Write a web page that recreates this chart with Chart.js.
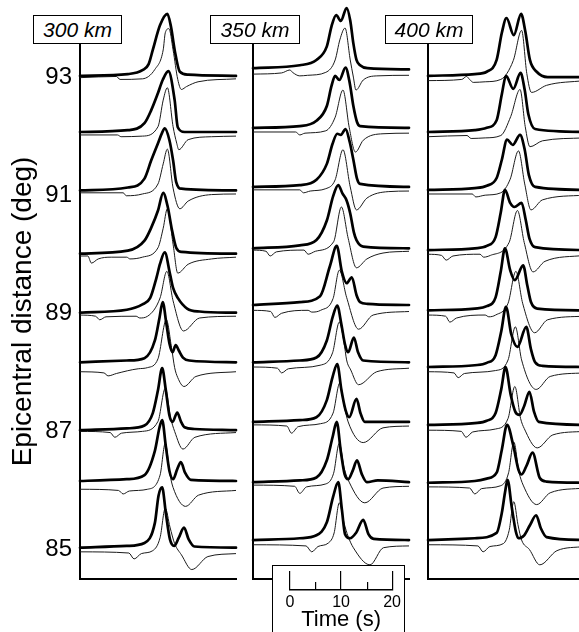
<!DOCTYPE html>
<html><head><meta charset="utf-8">
<script src="https://cdn.jsdelivr.net/npm/chart.js@4.4.1/dist/chart.umd.min.js"></script>
<style>
html,body{margin:0;padding:0;width:579px;height:632px;overflow:hidden;background:#fff;}
canvas{position:absolute;}
.lbl{position:absolute;box-sizing:border-box;border:1px solid #000;background:#fff;font:italic 21px 'Liberation Sans',Arial,sans-serif;display:flex;align-items:center;justify-content:center;z-index:2;color:#000;}
#sbox{position:absolute;left:272px;top:565px;width:133px;height:80px;box-sizing:border-box;border:1px solid #000;background:#fff;z-index:2;}
</style></head><body>
<canvas id="p0" width="240" height="632" style="left:0;top:0;z-index:1"></canvas>
<canvas id="p1" width="160" height="632" style="left:251px;top:0;z-index:1"></canvas>
<canvas id="p2" width="160" height="632" style="left:426px;top:0;z-index:1"></canvas>
<div class="lbl" id="l0" style="left:33px;top:15px;width:89px;height:29px"></div>
<div class="lbl" id="l1" style="left:210px;top:15px;width:90px;height:29px"></div>
<div class="lbl" id="l2" style="left:385px;top:15px;width:88px;height:29px"></div>
<div id="sbox"></div>
<canvas id="sA" width="124" height="80" style="left:280px;top:560px;z-index:3"></canvas>
<canvas id="sB" width="124" height="80" style="left:280px;top:560px;z-index:3"></canvas>
<script>
// ---- data ----
const distances = [85, 86, 87, 88, 89, 90, 91, 92, 93];
const yTicks = [85, 87, 89, 91, 93];
const depthLabels = ['300 km', '350 km', '400 km'];
const scaleTicks = [0, 5, 10, 15, 20];

// baselines (deg) of each trace, order 85..93
const baseThick300 = [85.03, 86.16, 87.02, 88.17, 89.01, 90.01, 91.08, 92.07, 93.02];
const baseThin300  = [84.96, 86.02, 87.00, 88.01, 88.97, 89.97, 91.04, 92.02, 92.99];
const baseThick350 = [85.16, 86.14, 87.16, 88.17, 89.14, 90.10, 91.14, 92.14, 93.15];
const baseThin350  = [85.08, 86.09, 87.11, 88.09, 89.05, 90.07, 91.09, 92.07, 93.05];
const baseThick400 = [85.16, 86.13, 87.11, 88.09, 89.05, 90.07, 91.09, 92.07, 93.02];
const baseThin400  = [85.08, 86.06, 87.02, 88.01, 88.97, 90.00, 91.02, 91.99, 92.94];

// traces: flat [time(s), amplitude(deg), ...], order 85..93
const thick300 = [
 [0,0, 9,0.03, 12.4,0.08, 14.4,0.42, 15.1,0.88, 15.8,1.02, 16.5,0.59, 17.3,0.14, 18.1,0.03, 19.0,0.17, 20.0,0.34, 20.9,0.14, 22.0,0.02, 30,0],
 [0,0, 9,0.03, 12.4,0.10, 14.4,0.51, 15.3,0.91, 15.8,1.03, 16.5,0.59, 17.2,0.17, 17.9,0.03, 18.7,0.20, 19.4,0.32, 20.2,0.14, 21.3,0.02, 30,0],
 [0,0, 9,0.03, 12.4,0.08, 14.0,0.29, 15.0,0.68, 15.8,1.05, 16.5,0.68, 17.2,0.25, 17.8,0.14, 18.7,0.30, 19.4,0.15, 20.1,0.05, 22,0.02, 30,0],
 [0,0, 9,0.03, 12.4,0.07, 14.4,0.37, 15.3,0.76, 15.9,1.02, 16.6,0.66, 17.2,0.32, 17.8,0.17, 18.4,0.29, 19.0,0.20, 19.8,0.08, 21,0.03, 30,0],
 [0,0, 9,0.05, 12,0.14, 13.5,0.25, 14.7,0.59, 15.4,0.83, 16.3,1.02, 17.3,0.66, 17.9,0.42, 18.8,0.25, 20.6,0.07, 23,0.02, 30,0],
 [0,0, 9.2,0.05, 12.4,0.22, 13.7,0.44, 15.0,0.73, 16.0,1.03, 16.9,0.78, 17.6,0.44, 18.5,0.10, 19.5,0.03, 30,0],
 [0,0, 9.2,0.05, 12.4,0.20, 13.7,0.51, 15.0,0.80, 15.8,0.98, 16.3,1.05, 17.2,0.85, 17.9,0.51, 18.5,0.14, 19.5,0.03, 30,0],
 [0,0, 9.2,0.03, 12.4,0.15, 13.7,0.37, 15.0,0.66, 15.9,0.88, 17.0,1.03, 18.2,0.54, 18.8,0.08, 20.1,0, 30,0],
 [0,0, 9.2,0.03, 12.1,0.10, 13.2,0.20, 14.0,0.44, 15.4,0.86, 16.8,1.05, 17.5,0.83, 18.2,0.44, 19.2,0.07, 20.8,0.02, 30,0]
];
const thin300 = [
 [0,0, 9.4,-0.02, 10.4,-0.12, 11.8,-0.03, 14,0.02, 15.4,0.24, 16.4,0.74, 17.3,0.42, 18.2,0.14, 19.5,-0.05, 21.5,-0.30, 24.6,-0.08, 30,-0.03],
 [0,0, 7.4,-0.02, 8.3,-0.08, 9.5,-0.03, 13,0, 15.4,0.24, 16.4,0.78, 17.3,0.25, 17.9,0.03, 20.3,-0.29, 22.8,-0.10, 30,-0.02],
 [0,0, 5.8,-0.02, 6.7,-0.10, 8,-0.03, 12,0, 15.0,0.17, 16.4,0.73, 17.4,0.24, 18.2,0, 19.8,-0.30, 22.1,-0.10, 30,-0.02],
 [0,0, 4.6,-0.02, 5.4,-0.07, 7,-0.03, 11.2,0.05, 13,0.07, 15.0,0.22, 16.6,0.88, 17.6,0.41, 18.2,0.07, 18.8,-0.10, 20.0,-0.25, 22.3,-0.08, 30,0],
 [0,0, 3.0,-0.02, 3.8,-0.08, 5,-0.03, 10.8,-0.02, 11.5,-0.05, 13,-0.02, 15.4,0.29, 16.7,0.74, 17.9,0.24, 19.9,-0.27, 23,-0.05, 30,-0.02],
 [0,0, 1.5,0, 2.2,-0.12, 3.5,-0.05, 6,-0.02, 9.0,-0.02, 9.6,-0.05, 12,-0.02, 15.0,0.14, 16.0,0.47, 16.8,0.80, 17.9,0.20, 18.8,-0.29, 20.8,-0.14, 25.3,-0.05, 30,-0.02],
 [0,0, 8.3,0, 8.9,-0.05, 12,-0.02, 15.0,0.15, 16.0,0.49, 16.8,0.74, 17.9,0.08, 19.2,-0.27, 20.8,-0.14, 25.3,-0.03, 30,-0.02],
 [0,0, 7.2,0, 7.9,-0.03, 12,-0.02, 15.0,0.14, 16.0,0.59, 16.8,0.80, 17.9,0.14, 18.6,-0.14, 19.0,-0.25, 20.8,-0.08, 25.3,-0.03, 30,-0.02],
 [0,0, 7.0,0.02, 7.7,-0.03, 12,-0.02, 14.4,0.14, 16.0,0.47, 16.4,0.76, 17.1,0.83, 17.9,0.47, 18.8,-0.03, 19.5,-0.20, 20.5,-0.15, 22.7,-0.07, 30,-0.02]
];
const thick350 = [
 [0,0, 9,0.03, 12.2,0.08, 14.2,0.30, 15.4,0.73, 16.4,0.98, 17.1,0.51, 17.7,0.10, 18.7,0.03, 19.8,0.12, 21.2,0.34, 22.2,0.10, 23.2,0.02, 30,0],
 [0,0, 9,0.03, 12.2,0.08, 14.2,0.37, 15.3,0.76, 16.1,1.02, 16.9,0.51, 17.6,0.14, 18.3,0.05, 19.2,0.20, 20.0,0.37, 20.9,0.14, 21.9,0, 24,0.03, 30,0],
 [0,0, 9,0.03, 12.2,0.08, 14.2,0.37, 15.3,0.76, 16.2,0.98, 17.0,0.54, 17.8,0.20, 18.5,0.08, 19.9,0.39, 20.7,0.14, 21.5,0, 30,0],
 [0,0, 9,0.03, 12.2,0.08, 14.2,0.37, 15.3,0.76, 16.2,0.96, 17.0,0.64, 17.7,0.30, 18.3,0.17, 19.4,0.42, 20.2,0.17, 21.2,0.03, 30,0],
 [0,0, 9,0.05, 12.9,0.15, 14.8,0.66, 16.1,1.00, 17.1,0.56, 18.0,0.37, 19.0,0.47, 19.9,0.17, 20.6,0.05, 22,0.02, 30,0],
 [0,0, 9.0,0.05, 12.2,0.14, 14.2,0.47, 15.4,0.88, 16.4,1.07, 17.2,0.93, 18.0,0.81, 18.7,0.59, 19.4,0.27, 19.9,0.14, 21.2,0.03, 30,0],
 [0,0, 9.0,0.03, 12.2,0.12, 14.2,0.39, 15.3,0.73, 16.2,0.90, 16.9,0.88, 17.8,0.98, 18.6,0.76, 19.3,0.46, 20.0,0.14, 20.6,0.05, 30,0],
 [0,0, 9.0,0.03, 12.2,0.12, 14.2,0.37, 15.1,0.71, 15.8,0.88, 16.6,0.81, 17.8,1.02, 18.6,0.76, 19.3,0.37, 20.0,0.10, 20.6,0.03, 30,0],
 [0,0, 9.0,0.05, 12.2,0.14, 14.2,0.37, 15.1,0.71, 16.0,0.90, 16.9,0.80, 18.0,1.02, 18.7,0.81, 19.3,0.42, 19.9,0.14, 20.6,0.05, 22,0, 30,-0.02]
];
const thin350 = [
 [0,0, 10.2,-0.02, 11.3,-0.12, 12.5,-0.03, 14.5,0.03, 15.6,0.20, 16.6,0.71, 17.5,0.37, 18.3,0.14, 19.3,-0.05, 22.5,-0.34, 25.1,-0.05, 30,-0.02],
 [0,0, 8.0,-0.02, 9.0,-0.14, 10.3,-0.03, 14,0.02, 15.5,0.20, 16.6,0.71, 17.5,0.30, 18.5,0.05, 21.5,-0.30, 25,-0.05, 30,-0.02],
 [0,0, 6.5,-0.02, 7.4,-0.14, 8.7,-0.03, 13,0.02, 15.4,0.20, 16.7,0.71, 17.5,0.34, 18.3,0.05, 21.2,-0.30, 25,-0.05, 30,-0.02],
 [0,0, 4.7,-0.02, 5.5,-0.10, 6.8,-0.03, 12.9,0.03, 15.3,0.24, 16.6,0.76, 17.5,0.42, 18.0,0.12, 18.8,-0.05, 20.3,-0.30, 23.8,-0.08, 30,-0.02],
 [0,0, 3.4,-0.02, 4.2,-0.12, 5.5,-0.05, 10.6,0, 11.3,-0.03, 13,0, 15.4,0.20, 16.6,0.68, 18.0,0.22, 20.3,-0.32, 23.1,-0.08, 30,-0.02],
 [0,0, 2.5,-0.02, 3.3,-0.10, 4.5,-0.03, 9.8,0, 10.6,-0.07, 12,-0.02, 15.5,0.14, 17.0,0.73, 18.3,0.20, 19.9,-0.30, 21.9,-0.15, 25,-0.05, 30,-0.02],
 [0,0, 9.0,0, 9.7,-0.05, 11,-0.02, 14,0.02, 15.8,0.17, 17.3,0.68, 18.7,0.05, 19.9,-0.34, 21.9,-0.14, 26,-0.03, 30,-0.02],
 [0,0, 8.2,0, 9.0,-0.05, 10,-0.02, 14,0.02, 15.8,0.25, 17.3,0.71, 18.5,0.08, 19.7,-0.34, 21.2,-0.14, 25,-0.03, 30,-0.02],
 [0,0, 5.5,0.02, 7.1,0.07, 7.6,0.03, 9.0,-0.03, 10.5,-0.02, 14,0.03, 15.8,0.24, 16.7,0.58, 17.7,0.78, 18.7,0.24, 19.3,-0.05, 19.8,-0.27, 21.2,-0.10, 23.8,-0.03, 30,-0.02]
];
const thick400 = [
 [0,0, 9,0.03, 13.2,0.12, 14.2,0.46, 14.8,0.80, 15.3,1.02, 16.1,0.56, 16.9,0.14, 17.4,0.03, 18.5,0.08, 19.6,0.25, 20.8,0.42, 21.7,0.20, 22.8,0.05, 30,0],
 [0,0, 9,0.03, 11.3,0.07, 13.2,0.17, 14.2,0.56, 15.2,0.98, 16.4,0.63, 17.4,0.22, 18.0,0.14, 19.0,0.30, 20.1,0.51, 21.5,0.08, 22.8,0.02, 30,0],
 [0,0, 9,0.03, 11.3,0.07, 13.0,0.20, 14.1,0.61, 14.9,0.98, 15.9,0.51, 16.8,0.22, 17.6,0.17, 18.5,0.32, 19.5,0.56, 20.4,0.22, 21.3,0.05, 30,0],
 [0,0, 9,0.03, 11.3,0.07, 13.0,0.20, 14.1,0.61, 15.0,1.02, 16.0,0.56, 17.2,0.34, 18.9,0.68, 19.8,0.30, 20.6,0.08, 22,0.02, 30,0],
 [0,0, 9,0.03, 11.3,0.07, 13.0,0.22, 14.0,0.66, 14.8,1.05, 15.8,0.68, 16.7,0.51, 18.3,0.76, 19.1,0.42, 19.8,0.14, 21,0.03, 30,0],
 [0,0, 9,0.03, 11.3,0.07, 13.0,0.22, 14.0,0.64, 14.8,1.02, 15.8,0.80, 16.6,0.73, 18.0,0.80, 18.8,0.51, 19.5,0.20, 20.6,0.05, 30,0],
 [0,0, 9,0.03, 11.3,0.07, 13.2,0.20, 14.2,0.51, 15.2,0.85, 16.3,0.76, 17.7,0.93, 18.6,0.68, 19.4,0.25, 20.6,0.05, 30,0],
 [0,0, 9,0.03, 11.3,0.07, 13.2,0.20, 14.2,0.64, 15.0,0.95, 16.4,0.73, 17.8,1.00, 18.6,0.71, 19.3,0.30, 20.6,0.05, 30,0],
 [0,0, 9,0.03, 11.3,0.07, 13.2,0.27, 14.2,0.73, 15.1,0.98, 16.5,0.69, 17.9,1.05, 18.7,0.76, 19.6,0.27, 20.9,0.07, 23,-0.02, 30,-0.02]
];
const thin400 = [
 [0,0, 9.6,-0.02, 10.6,-0.12, 11.9,-0.03, 14.5,0.02, 15.6,0.24, 16.5,0.73, 17.3,0.34, 18.0,0.08, 19.5,-0.08, 21.5,-0.34, 24.8,-0.10, 30,-0.03],
 [0,0, 8.0,-0.02, 9.0,-0.12, 10.3,-0.03, 14,0.02, 15.5,0.24, 16.5,0.76, 17.5,0.25, 18.3,0.03, 20.9,-0.30, 23.5,-0.10, 30,-0.02],
 [0,0, 6.4,-0.02, 7.3,-0.12, 8.6,-0.03, 13,0.02, 15.4,0.20, 16.7,0.74, 17.8,0.20, 18.5,0.03, 21.0,-0.30, 24,-0.08, 30,-0.02],
 [0,0, 5.0,-0.02, 5.8,-0.10, 7.0,-0.03, 13,0.02, 15.4,0.20, 16.8,0.76, 18.0,0.20, 20.8,-0.30, 23.5,-0.08, 30,-0.02],
 [0,0, 3.4,-0.02, 4.2,-0.12, 5.5,-0.05, 11,0, 11.7,-0.03, 13,0, 15.4,0.20, 16.9,0.74, 18.2,0.20, 20.5,-0.30, 23,-0.08, 30,-0.02],
 [0,0, 2.6,-0.02, 3.5,-0.10, 4.8,-0.03, 10,0, 10.7,-0.05, 12,-0.02, 15.6,0.20, 17.2,0.74, 18.5,0.20, 20.2,-0.30, 22.5,-0.12, 30,-0.02],
 [0,0, 8.5,0, 9.2,-0.05, 11,-0.02, 14,0.02, 15.8,0.25, 17.4,0.73, 18.6,0.17, 19.8,-0.27, 22,-0.10, 30,-0.02],
 [0,0, 7.5,0.02, 8.3,-0.03, 11,-0.02, 14,0.02, 15.9,0.34, 17.7,0.80, 18.7,0.17, 19.6,-0.17, 22,-0.07, 30,-0.02],
 [0,0, 6.5,0.02, 7.4,0.07, 8.0,0.02, 8.7,-0.03, 11,-0.02, 14,0.02, 16.4,0.34, 18.0,0.85, 19.0,0.12, 19.9,-0.20, 22.8,-0.08, 30,0]
];

// ---- drawing ----
const FAMILY = "'Liberation Sans', Arial, Helvetica, sans-serif";
Chart.defaults.font.family = FAMILY;
Chart.defaults.color = '#000';

function toPoints(flat, base) {
  const pts = [];
  for (let i = 0; i < flat.length; i += 2) pts.push({x: flat[i], y: base + flat[i + 1]});
  return pts;
}

function makePanel(id, thick, thin, bThick, bThin, first) {
  const datasets = [];
  distances.forEach((d, i) => datasets.push({
    label: 'thick ' + d, data: toPoints(thick[i], bThick[i]),
    borderColor: '#000', borderWidth: 2.7, pointRadius: 0, fill: false,
    cubicInterpolationMode: 'monotone', clip: false, borderJoinStyle: 'round', borderCapStyle: 'round'
  }));
  distances.forEach((d, i) => datasets.push({
    label: 'thin ' + d, data: toPoints(thin[i], bThin[i]),
    borderColor: '#1a1a1a', borderWidth: 1, pointRadius: 0, fill: false,
    cubicInterpolationMode: 'monotone', clip: false, borderJoinStyle: 'round'
  }));
  new Chart(document.getElementById(id), {
    type: 'line',
    data: {datasets},
    options: {
      responsive: false, animation: false, devicePixelRatio: 1, events: [],
      layout: {padding: {top: 44, bottom: 53, left: first ? 0 : 2, right: first ? 4 : 2}},
      plugins: {legend: {display: false}, tooltip: {enabled: false}},
      scales: {
        x: {
          type: 'linear', min: 0, max: 30,
          ticks: {display: false}, grid: {display: false, drawTicks: false},
          border: {display: true, color: '#000', width: 2},
          afterFit: s => { s.height = 0; }
        },
        y: {
          type: 'linear', min: 84.5, max: 93.56,
          afterBuildTicks: s => { s.ticks = yTicks.map(v => ({value: v})); },
          ticks: {display: first, font: {size: 24, family: FAMILY}, color: '#000', padding: 8},
          grid: {display: false, drawTicks: false},
          border: {display: true, color: '#000', width: 2},
          title: first ? {display: true, text: 'Epicentral distance (deg)', color: '#000',
                          font: {size: 28, family: FAMILY}, padding: {top: 6, bottom: 0}} : {display: false},
          afterFit: s => { s.width = first ? 80 : 0; }
        }
      }
    }
  });
}

makePanel('p0', thick300, thin300, baseThick300, baseThin300, true);
makePanel('p1', thick350, thin350, baseThick350, baseThin350, false);
makePanel('p2', thick400, thin400, baseThick400, baseThin400, false);

['l0', 'l1', 'l2'].forEach((id, i) => { document.getElementById(id).textContent = depthLabels[i]; });

function makeScale(id, padTop, major) {
  new Chart(document.getElementById(id), {
    type: 'line',
    data: {datasets: []},
    options: {
      responsive: false, animation: false, devicePixelRatio: 1, events: [],
      layout: {padding: {top: padTop, left: 10, right: 10, bottom: 0}},
      plugins: {legend: {display: false}, tooltip: {enabled: false}},
      scales: {
        x: {
          type: 'linear', min: 0, max: 20,
          afterBuildTicks: s => { s.ticks = scaleTicks.map(v => ({value: v})); },
          ticks: {display: major, autoSkip: false, maxRotation: 0, padding: 3,
                  font: {size: 16, family: FAMILY}, color: '#000',
                  callback: v => (v % 10 === 0 ? String(v) : '')},
          grid: {display: true, drawOnChartArea: true, drawTicks: false, lineWidth: 1.2,
                 color: c => {
                   const isMajor = c.tick && c.tick.value % 10 === 0;
                   return (isMajor === major) ? '#000' : 'rgba(0,0,0,0)';
                 }},
          border: {display: major, color: '#000', width: 1.5},
          title: {display: major, text: 'Time (s)', color: '#000',
                  font: {size: 22, family: FAMILY}, padding: {top: 0, bottom: 7}},
          afterFit: s => { s.height = 50; }
        },
        y: {display: false, min: 0, max: 1}
      }
    }
  });
}
makeScale('sA', 11, true);
makeScale('sB', 22, false);
</script>
</body></html>
